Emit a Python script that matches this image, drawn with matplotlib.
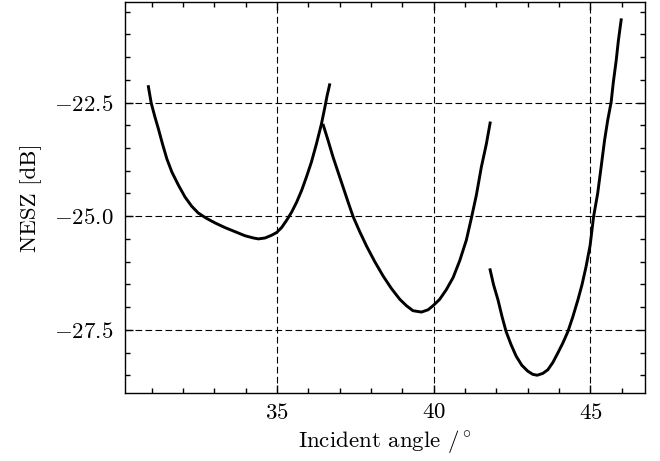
import matplotlib
matplotlib.use("Agg")
import matplotlib.pyplot as plt
from matplotlib.ticker import MultipleLocator

# NESZ curves per beam
angle_1 = [30.90, 30.99, 31.11, 31.22, 31.35, 31.49, 31.65, 31.86, 32.07, 32.28,
           32.49, 32.76, 33.03, 33.34, 33.66, 33.98, 34.25, 34.41, 34.62, 34.83,
           34.99, 35.15, 35.31, 35.47, 35.63, 35.79, 35.94, 36.10, 36.26, 36.42,
           36.53, 36.60, 36.68]
nesz_1 = [-22.15, -22.51, -22.82, -23.08, -23.41, -23.74, -24.03, -24.32, -24.58, -24.78,
          -24.93, -25.05, -25.15, -25.25, -25.34, -25.43, -25.48, -25.50, -25.48, -25.42,
          -25.36, -25.25, -25.09, -24.91, -24.69, -24.43, -24.14, -23.81, -23.41, -22.97,
          -22.60, -22.35, -22.11]

angle_2 = [36.48, 36.63, 36.79, 36.95, 37.11, 37.27, 37.43, 37.64, 37.86, 38.12,
           38.39, 38.65, 38.92, 39.13, 39.34, 39.61, 39.82, 39.98, 40.19, 40.40,
           40.62, 40.83, 41.04, 41.20, 41.36, 41.52, 41.68, 41.80]
nesz_2 = [-23.00, -23.33, -23.70, -24.03, -24.36, -24.69, -25.01, -25.34, -25.66, -26.00,
          -26.32, -26.59, -26.83, -26.97, -27.08, -27.11, -27.06, -26.97, -26.83, -26.62,
          -26.35, -25.98, -25.53, -25.05, -24.54, -23.92, -23.41, -22.95]

angle_3 = [41.80, 41.91, 42.05, 42.18, 42.31, 42.47, 42.63, 42.81, 43.00, 43.16,
           43.30, 43.48, 43.64, 43.80, 43.96, 44.12, 44.28, 44.44, 44.60, 44.73,
           44.86, 44.99, 45.10, 45.23, 45.34, 45.45, 45.55, 45.66, 45.73, 45.82,
           45.89, 45.98]
nesz_3 = [-26.18, -26.51, -26.84, -27.21, -27.54, -27.83, -28.08, -28.28, -28.41, -28.48,
          -28.50, -28.46, -28.38, -28.22, -28.01, -27.79, -27.54, -27.21, -26.84, -26.51,
          -26.11, -25.64, -25.01, -24.50, -23.92, -23.33, -22.89, -22.49, -22.05, -21.58,
          -21.14, -20.68]

plt.rcParams["font.family"] = "serif"
plt.rcParams["font.serif"] = ["cmr10"]
plt.rcParams["mathtext.fontset"] = "cm"
plt.rcParams["axes.formatter.use_mathtext"] = True
plt.rcParams["font.size"] = 16.5

fig = plt.figure(figsize=(6.6, 4.61), dpi=100)
ax = fig.add_axes([0.189, 0.1475, 0.788, 0.848])

for a, n in [(angle_1, nesz_1), (angle_2, nesz_2), (angle_3, nesz_3)]:
    ax.plot(a, n, color="black", lw=2.1)

ax.xaxis.set_major_locator(MultipleLocator(5))
ax.xaxis.set_minor_locator(MultipleLocator(1))
ax.yaxis.set_major_locator(MultipleLocator(2.5))
ax.yaxis.set_minor_locator(MultipleLocator(0.5))
ax.tick_params(which="both", direction="in", top=True, right=True, width=1.0)
ax.tick_params(which="major", length=6)
ax.tick_params(which="minor", length=3.5)
ax.tick_params(axis="y", which="major", pad=8)
ax.tick_params(axis="x", which="major", pad=7)
for s in ax.spines.values():
    s.set_linewidth(1.0)

ax.grid(True, which="major", color="black", lw=0.8, linestyle=(0, (6, 3)))

ax.set_xlabel(r"Incident angle /$^\circ$", labelpad=3.5)
ax.set_ylabel("NESZ [dB]", labelpad=9)

fig.savefig("out.png", dpi=100)
